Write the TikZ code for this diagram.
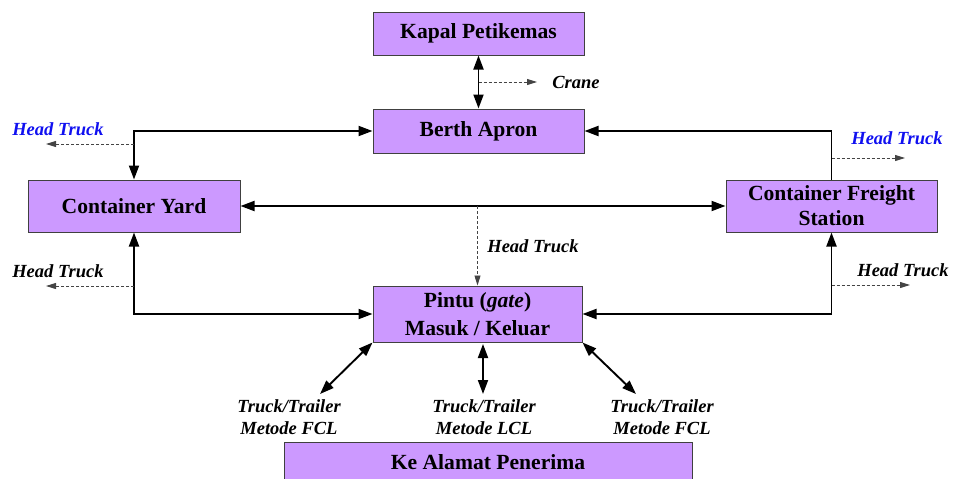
\documentclass[tikz,border=0pt]{standalone}
\usepackage{fontspec}
\setmainfont{Liberation Serif}
\usetikzlibrary{arrows.meta}
\definecolor{boxfill}{HTML}{CC99FF}
\definecolor{boxline}{HTML}{404040}
\definecolor{dashgray}{HTML}{444444}
\definecolor{htblue}{HTML}{1010F0}
\begin{document}
\begin{tikzpicture}[x=1pt,y=-1pt,
  box/.style={draw=boxline,line width=1pt,fill=boxfill,align=center,inner sep=0pt,
    font=\fontsize{21.6}{25}\selectfont\bfseries},
  lbl/.style={inner sep=0pt,align=center,font=\fontsize{18.5}{22}\selectfont\bfseries\itshape},
  arr/.style={line width=1.9pt,-{Triangle[length=14pt,width=10pt]}},
  dbl/.style={line width=1.9pt,{Triangle[length=14pt,width=10pt]}-{Triangle[length=14pt,width=10pt]}},
  dsh/.style={draw=dashgray,line width=0.9pt,dash pattern=on 3pt off 2pt,
    -{Triangle[length=10pt,width=6pt]},dashgray}]
\useasboundingbox (0,0) rectangle (953,479);

% boxes
\node[box,minimum width=211pt,minimum height=43pt] (kapal) at (478.5,33.5) {Kapal Petikemas};
\node[box,minimum width=211pt,minimum height=44pt] (berth) at (478.5,131) {Berth Apron};
\node[box,minimum width=212pt,minimum height=52pt] (cy) at (134,206) {Container Yard};
\node[box,minimum width=211pt,minimum height=52pt] (cfs) at (831.5,206) {Container Freight\\Station};
\node[box,minimum width=209pt,minimum height=56pt,font=\fontsize{21.6}{28}\selectfont\bfseries] (gate) at (477.5,314) {Pintu (\textit{gate})\\Masuk / Keluar};
\node[box,minimum width=408pt,minimum height=42pt,anchor=north] (tujuan) at (488,442) {};
\node[lbl,font=\fontsize{21.6}{25}\selectfont\bfseries] (tujuantxt) at (488,462) {Ke Alamat Penerima};

% ship to berth, crane
\draw[dbl] (kapal) -- (berth);
\coordinate (crA) at (478.5,82);
\coordinate (crB) at (537,82);
\draw[dsh] (crA) -- (crB);
\node[lbl] (crane) at (576,82) {Crane};

% berth links
\draw[dbl] (cy.north) |- (berth.west);
\draw[arr] (cfs.north) |- (berth.east);
\draw[dbl] (cy) -- (cfs);

% gate links
\draw[dbl] (cy.south) |- (gate.west);
\draw[dbl] (cfs.south) |- (gate.east);

% head truck exits
\coordinate (h1a) at (134,144);   \coordinate (h1b) at (46,144);
\coordinate (h2a) at (831.5,158); \coordinate (h2b) at (905,158);
\coordinate (h3a) at (134,286);   \coordinate (h3b) at (46,286);
\coordinate (h4a) at (831.5,285); \coordinate (h4b) at (910,285);
\coordinate (h5a) at (477.5,206);
\draw[dsh] (h1a) -- (h1b);
\draw[dsh] (h2a) -- (h2b);
\draw[dsh] (h3a) -- (h3b);
\draw[dsh] (h4a) -- (h4b);
\draw[dsh] (h5a) -- (gate.north);
\node[lbl,htblue] (ht1) at (58,129) {Head Truck};
\node[lbl,htblue] (ht2) at (897,138) {Head Truck};
\node[lbl] (ht3) at (58,271) {Head Truck};
\node[lbl] (ht4) at (903,270) {Head Truck};
\node[lbl] (ht5) at (533,246) {Head Truck};

% trucks to receiver
\coordinate (t1) at (320,394);
\coordinate (t2top) at (483,344);
\coordinate (t2) at (483,394);
\coordinate (t3) at (636,394);
\draw[dbl] (gate.south west) -- (t1);
\draw[dbl] (t2top) -- (t2);
\draw[dbl] (gate.south east) -- (t3);
\node[lbl] (tr1) at (289,417) {Truck/Trailer\\Metode FCL};
\node[lbl] (tr2) at (484,417) {Truck/Trailer\\Metode LCL};
\node[lbl] (tr3) at (662,417) {Truck/Trailer\\Metode FCL};
\end{tikzpicture}
\end{document}
